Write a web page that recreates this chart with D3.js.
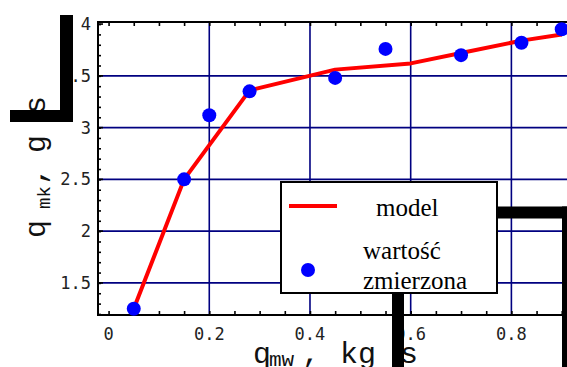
<!DOCTYPE html>
<html><head><meta charset="utf-8">
<script src="https://cdn.jsdelivr.net/npm/d3@7"></script>
<style>html,body{margin:0;padding:0;background:#fff;overflow:hidden}</style>
</head><body>
<svg id="c" width="567" height="367"></svg>
<script>
// data
const xMeasured = [0.05, 0.15, 0.2, 0.28, 0.45, 0.55, 0.7, 0.82, 0.9];
const yMeasured = [1.25, 2.5, 3.12, 3.35, 3.48, 3.76, 3.70, 3.82, 3.95];
const xModel = [0.05, 0.15, 0.28, 0.45, 0.6, 0.7, 0.82, 0.9];
const yModel = [1.25, 2.5, 3.36, 3.56, 3.62, 3.72, 3.84, 3.90];
const xTickLabels = ["0", "0.2", "0.4", "0.6", "0.8"];
const yTickLabels = ["1.5", "2", "2.5", "3", "3.5", "4"];
const legendLabels = ["model", "wartość", "zmierzona"];

(function(){
const svg = d3.select("#c");
const L = 98, R = 563, T = 22, B = 315;
const x = d3.scaleLinear().domain([-0.021, 0.9025]).range([L, R]);
const y = d3.scaleLinear().domain([1.19, 4.02]).range([B, T]);
const navy = "#000080";

// grid
const gx = [0.2, 0.4, 0.6, 0.8], gy = [1.5, 2, 2.5, 3, 3.5];
svg.append("g").selectAll("line").data(gx).join("line")
  .attr("x1", d => x(d)).attr("x2", d => x(d)).attr("y1", T).attr("y2", B)
  .attr("stroke", navy).attr("stroke-width", 1.6);
svg.append("g").selectAll("line").data(gy).join("line")
  .attr("x1", L).attr("x2", 567).attr("y1", d => y(d)).attr("y2", d => y(d))
  .attr("stroke", navy).attr("stroke-width", 1.6);

// axes
const axB = d3.axisBottom(x).tickValues(d3.range(0, 0.91, 0.05)).tickSize(-4).tickFormat("");
const axT = d3.axisTop(x).tickValues(d3.range(0, 0.91, 0.05)).tickSize(-4).tickFormat("");
const axL = d3.axisLeft(y).tickValues(d3.range(1.2, 4.01, 0.1)).tickSize(-3).tickFormat("");
function styleAxis(g){ g.select(".domain").remove(); g.selectAll(".tick line").attr("stroke","#000").attr("stroke-width",1.6); }
svg.append("g").attr("transform", `translate(0,${B})`).call(axB).call(styleAxis);
svg.append("g").attr("transform", `translate(0,${T})`).call(axT).call(styleAxis);
svg.append("g").attr("transform", `translate(${L},0)`).call(axL).call(styleAxis);
svg.append("g").selectAll("line").data([1.5,2,2.5,3,3.5,4]).join("line")
  .attr("x1", L).attr("x2", L+5).attr("y1", d=>y(d)).attr("y2", d=>y(d)).attr("stroke","#000").attr("stroke-width",1.6);
svg.append("line").attr("x1", L).attr("x2", 567).attr("y1", B).attr("y2", B).attr("stroke","#000").attr("stroke-width",2);
svg.append("line").attr("x1", L).attr("x2", 567).attr("y1", T).attr("y2", T).attr("stroke","#000").attr("stroke-width",2);
svg.append("line").attr("x1", L).attr("x2", L).attr("y1", T-1).attr("y2", B+1).attr("stroke","#000").attr("stroke-width",2);

// model line
const line = d3.line().x(d => x(d[0])).y(d => y(d[1]));
svg.append("path").datum(xModel.map((v,i)=>[v, yModel[i]])).attr("d", line)
  .attr("fill","none").attr("stroke","#ff0000").attr("stroke-width",4).attr("stroke-linejoin","round");
// measured points
svg.append("g").selectAll("circle").data(xMeasured.map((v,i)=>[v,yMeasured[i]])).join("circle")
  .attr("cx", d=>x(d[0])).attr("cy", d=>y(d[1])).attr("r", 7).attr("fill","#0000ff");

// tick labels
const tickFont = "DejaVu Sans Mono";
svg.append("g").selectAll("text").data(xTickLabels).join("text")
  .attr("x", d => x(+d)).attr("y", 340).attr("text-anchor","middle")
  .attr("font-family", tickFont).attr("font-size", 17).attr("fill","#222").text(d=>d);
svg.append("g").selectAll("text").data(yTickLabels).join("text")
  .attr("x", 91).attr("y", d => y(+d) + 6).attr("text-anchor","end")
  .attr("font-family", tickFont).attr("font-size", 17).attr("fill","#222").text(d=>d);

// axis labels
const lf = "Liberation Mono";
function piece(g, t, pos, base, size){ g.append("text").attr("x",pos).attr("y",base).attr("font-family",lf).attr("font-size",size).attr("fill","#111").text(t); }
const xl = svg.append("g");
piece(xl, "q", 253, 363, 30);
piece(xl, "mw", 269, 366, 21);
piece(xl, ",", 302, 363, 30);
piece(xl, "kg", 340, 363, 30);
piece(xl, "s", 400, 363, 30);
const yl = svg.append("g").attr("transform","translate(45,240) rotate(-90)");
piece(yl, "q", 2, 0, 30);
piece(yl, "mk", 31, 5, 19);
piece(yl, ",", 55, 0, 30);
piece(yl, "g", 87, 0, 30);
piece(yl, "s", 126, 0, 30);

// legend
const lg = svg.append("g");
lg.append("rect").attr("x",281).attr("y",182).attr("width",216).attr("height",111)
  .attr("fill","#fff").attr("stroke","#000").attr("stroke-width",2);
lg.append("line").attr("x1",289).attr("x2",337).attr("y1",206).attr("y2",206).attr("stroke","#ff0000").attr("stroke-width",4);
lg.append("circle").attr("cx",308).attr("cy",270).attr("r",7).attr("fill","#0000ff");
const lfs = "Liberation Serif";
lg.append("text").attr("x",376).attr("y",216).attr("font-family",lfs).attr("font-size",25).text(legendLabels[0]);
lg.append("text").attr("x",363).attr("y",259).attr("font-family",lfs).attr("font-size",25).text(legendLabels[1]);
lg.append("text").attr("x",363).attr("y",289).attr("font-family",lfs).attr("font-size",25).text(legendLabels[2]);

// black bars (fraction artifacts)
const bars = svg.append("g").attr("fill","#000");
bars.append("rect").attr("x",60).attr("y",15).attr("width",13).attr("height",107);
bars.append("rect").attr("x",10).attr("y",110).attr("width",63).attr("height",12);
bars.append("rect").attr("x",497).attr("y",206.5).attr("width",70).attr("height",12);
bars.append("rect").attr("x",562).attr("y",206.5).attr("width",5).attr("height",161);
bars.append("rect").attr("x",392).attr("y",293).attr("width",12).attr("height",74);
})();
</script>
</body></html>
